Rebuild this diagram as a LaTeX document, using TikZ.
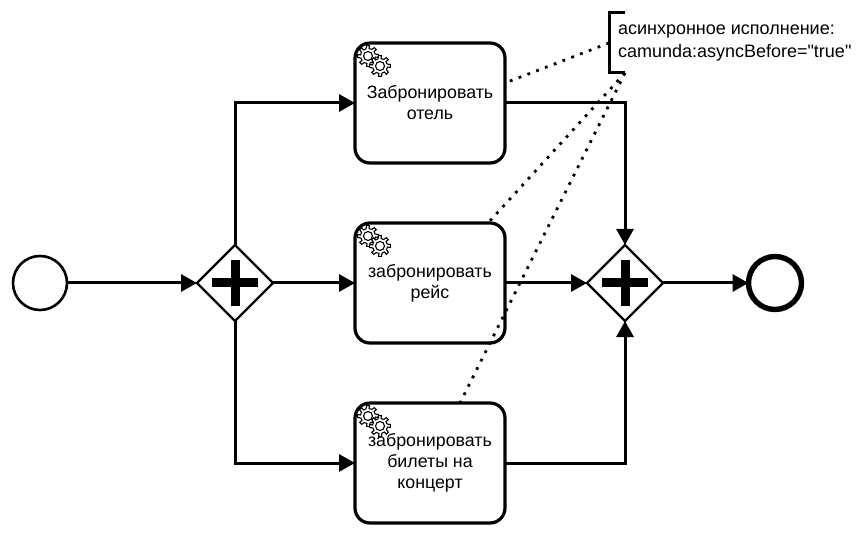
\documentclass[tikz,border=0pt]{standalone}
\usepackage{fontspec}
\setmainfont{Liberation Sans}
\newfontfamily\notefont{Liberation Sans}
\usetikzlibrary{arrows.meta, shapes.geometric, positioning}

\tikzset{
    event/.style={draw, circle, fill=white, minimum size=54pt, inner sep=0pt, outer sep=0pt, line width=2.6pt},
    endevent/.style={event, minimum size=53pt, line width=5.4pt},
    gateway/.style={draw, diamond, fill=white, minimum width=76pt, minimum height=76pt, inner sep=0pt, outer sep=0pt, line width=2.4pt},
    plusmark/.style={line width=9pt},
    gearicon/.pic={
        \foreach \cx/\cy in {0/0,12/-10} {
            \draw[sharp corners, fill=white, line width=1.1pt, shift={(\cx pt,\cy pt)}] (-8:7.5pt)
                \foreach \a in {0,45,...,315} {
                    -- (\a-8:10.5pt) -- (\a+8:10.5pt) -- (\a+15:7.5pt) -- (\a+37:7.5pt)
                } -- cycle;
            \draw[sharp corners, line width=1.1pt, shift={(\cx pt,\cy pt)}] (0,0) circle (4.5pt);
        }
    },
    % the gears go in the path picture, so the task's text stays on top of them
    taskbox/.style={draw, rectangle, rounded corners=15pt, fill=white, minimum width=150pt, minimum height=120pt, inner sep=0pt, outer sep=0pt, line width=3.2pt, align=center, font=\fontsize{17.8}{21}\selectfont,
        path picture={\pic at ([shift={(-62pt,47pt)}]path picture bounding box.center) {gearicon};}},
    flow/.style={line width=3pt, -{Triangle[length=16pt,width=17pt]}},
    assoc/.style={line width=2.8pt, dash pattern=on 2.8pt off 6.6pt},
}

\begin{document}
\begin{tikzpicture}[node distance=195pt, on grid]
    \useasboundingbox (-40pt,-255pt) rectangle (825pt,283pt);

    \node[event] (startev) at (0,0) {};
    \node[gateway, right=of startev] (gwsplit) {};
    \node[taskbox, right=of gwsplit] (taskflight) {забронировать\\рейс};
    \node[gateway, right=of taskflight] (gwjoin) {};
    \node[endevent, right=150pt of gwjoin] (endev) {};
    \node[taskbox, above=180pt of taskflight] (taskhotel) {Забронировать\\отель};
    \node[taskbox, below=180pt of taskflight] (taskconcert) {забронировать\\билеты на\\концерт};
    \node[anchor=west, minimum height=60pt, inner xsep=9pt, inner ysep=0pt, outer sep=0pt, align=left, font=\notefont\fontsize{18}{23}\selectfont] (note) at ([shift={(179pt,60pt)}]taskhotel.center) {асинхронное исполнение:\\camunda:asyncBefore="true"};
    \coordinate (notefoot) at ([xshift=16pt]note.south west);

    % sequence flows
    \draw[flow] (startev) -- (gwsplit);
    \draw[flow] (gwsplit) |- (taskhotel);
    \draw[flow] (gwsplit) -- (taskflight);
    \draw[flow] (gwsplit) |- (taskconcert);
    \draw[flow] (taskhotel) -| (gwjoin);
    \draw[flow] (taskflight) -- (gwjoin);
    \draw[flow] (taskconcert) -| (gwjoin);
    \draw[flow] (gwjoin) -- (endev);

    % annotation bracket and its associations
    \draw[line width=3pt] ([xshift=16pt]note.north west) -- (note.north west) -- (note.south west) -- (notefoot);
    \draw[assoc] (note.west) -- ([yshift=20pt]taskhotel.east);
    \draw[assoc] (notefoot) -- ([xshift=58pt]taskflight.north);
    \draw[assoc] (notefoot) -- ([xshift=30pt]taskconcert.north);

    % plus signs
    \foreach \gw in {gwsplit, gwjoin} {
        \draw[plusmark] ([xshift=-23pt]\gw.center) -- ([xshift=23pt]\gw.center);
        \draw[plusmark] ([yshift=-23pt]\gw.center) -- ([yshift=23pt]\gw.center);
    }
\end{tikzpicture}
\end{document}
